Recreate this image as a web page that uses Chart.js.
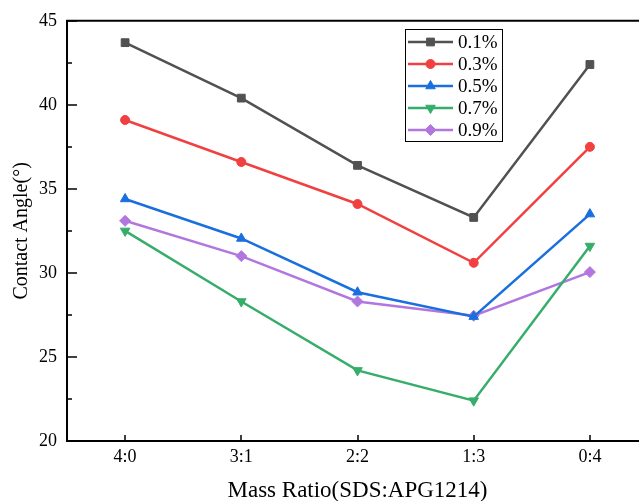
<!DOCTYPE html>
<html>
<head>
<meta charset="utf-8">
<script src="https://cdn.jsdelivr.net/npm/chart.js@4/dist/chart.umd.min.js"></script>
<style>
  html, body { margin: 0; padding: 0; background: #fff; overflow: hidden; }
  #wrap { width: 660px; height: 501px; }
</style>
</head>
<body>
<div id="wrap"><canvas id="myChart" width="660" height="501"></canvas></div>
<script>
// mass ratio categories and contact angle per surfactant concentration
const ratios = ['4:0', '3:1', '2:2', '1:3', '0:4'];
const conc01 = [43.7, 40.4, 36.4, 33.3, 42.4];
const conc03 = [39.1, 36.6, 34.1, 30.6, 37.5];
const conc05 = [34.4, 32.05, 28.85, 27.4, 33.5];
const conc07 = [32.5, 28.3, 24.2, 22.4, 31.6];
const conc09 = [33.1, 31.0, 28.3, 27.45, 30.05];
const seriesNames = ['0.1%', '0.3%', '0.5%', '0.7%', '0.9%'];

const serif = "'Liberation Serif', 'Times New Roman', serif";

function series(label, data, color, style, rotation, radius) {
    return {
        label: label,
        data: data,
        borderColor: color,
        backgroundColor: color,
        borderWidth: 2.5,
        pointStyle: style,
        pointRotation: rotation,
        pointRadius: radius,
        pointHoverRadius: radius,
        pointBorderWidth: 1,
        pointBorderColor: color,
        pointBackgroundColor: color,
        tension: 0
    };
}

// axis ticks pointing into the plot + top frame line
const frameTicks = {
    id: 'frameTicks',
    afterDraw(chart) {
        const ctx = chart.ctx;
        const x = chart.scales.x, y = chart.scales.y;
        const area = chart.chartArea;
        ctx.save();
        ctx.strokeStyle = '#000';
        ctx.lineWidth = 2;
        ctx.beginPath();
        ctx.moveTo(area.left - 1, area.top);
        ctx.lineTo(area.right, area.top);
        ctx.stroke();
        ctx.lineWidth = 1.5;
        ctx.beginPath();
        for (let v = 20; v <= 45; v += 2.5) {
            const py = Math.round(y.getPixelForValue(v));
            const len = (v % 5 === 0) ? 10 : 5;
            ctx.moveTo(area.left, py);
            ctx.lineTo(area.left + len, py);
        }
        ratios.forEach((r, i) => {
            const px = Math.round(x.getPixelForValue(i));
            ctx.moveTo(px, area.bottom);
            ctx.lineTo(px, area.bottom - 6);
        });
        ctx.stroke();
        ctx.restore();
    }
};

// boxed legend with line + marker samples
const boxLegend = {
    id: 'boxLegend',
    afterDraw(chart) {
        const ctx = chart.ctx;
        const left = 405, top = 29, w = 97, h = 112;
        ctx.save();
        ctx.strokeStyle = '#000';
        ctx.lineWidth = 1;
        ctx.strokeRect(left + 0.5, top + 0.5, w, h);
        ctx.font = '19px ' + serif;
        ctx.textBaseline = 'middle';
        chart.data.datasets.forEach((ds, i) => {
            const cy = 42 + i * 22;
            ctx.strokeStyle = ds.borderColor;
            ctx.lineWidth = ds.borderWidth;
            ctx.beginPath();
            ctx.moveTo(408, cy);
            ctx.lineTo(453, cy);
            ctx.stroke();
            ctx.fillStyle = ds.borderColor;
            ctx.lineWidth = 1;
            Chart.helpers.drawPoint(ctx, {
                pointStyle: ds.pointStyle,
                rotation: ds.pointRotation,
                radius: ds.pointRadius,
                borderWidth: 1
            }, 430.5, cy);
            ctx.fillStyle = '#000';
            ctx.fillText(ds.label, 458, cy + 1);
        });
        ctx.restore();
    }
};

const config = {
    type: 'line',
    data: {
        labels: ratios,
        datasets: [
            series(seriesNames[0], conc01, '#515151', 'rect', 0, 5.5),
            series(seriesNames[1], conc03, '#F14040', 'circle', 0, 4.5),
            series(seriesNames[2], conc05, '#1A6FDF', 'triangle', 0, 5.5),
            series(seriesNames[3], conc07, '#37AD6B', 'triangle', 180, 5.5),
            series(seriesNames[4], conc09, '#B177DE', 'rectRot', 0, 5.5)
        ]
    },
    options: {
        responsive: false,
        animation: false,
        devicePixelRatio: 1,
        layout: { padding: { left: 0, top: 20, right: 12, bottom: 0 } },
        plugins: {
            legend: { display: false },
            tooltip: { enabled: false }
        },
        scales: {
            x: {
                offset: true,
                grid: { display: false, drawTicks: false },
                border: { display: true, color: '#000', width: 2 },
                ticks: { color: '#000', padding: 5, font: { family: serif, size: 18 } },
                title: {
                    display: true,
                    text: 'Mass Ratio(SDS:APG1214)',
                    color: '#000',
                    font: { family: serif, size: 23, lineHeight: 0.9 },
                    padding: { top: 0, bottom: 0 }
                },
                afterFit(scale) { scale.height = 60; }
            },
            y: {
                min: 20,
                max: 45,
                grid: { display: false, drawTicks: false },
                border: { display: true, color: '#000', width: 2 },
                ticks: { stepSize: 5, color: '#000', padding: 10, font: { family: serif, size: 18 } },
                title: {
                    display: true,
                    text: 'Contact Angle(°)',
                    color: '#000',
                    font: { family: serif, size: 20 },
                    padding: { top: 10, bottom: 0 }
                },
                afterFit(scale) { scale.width = 67; }
            }
        }
    },
    plugins: [frameTicks, boxLegend]
};

new Chart(document.getElementById('myChart'), config);
</script>
</body>
</html>
